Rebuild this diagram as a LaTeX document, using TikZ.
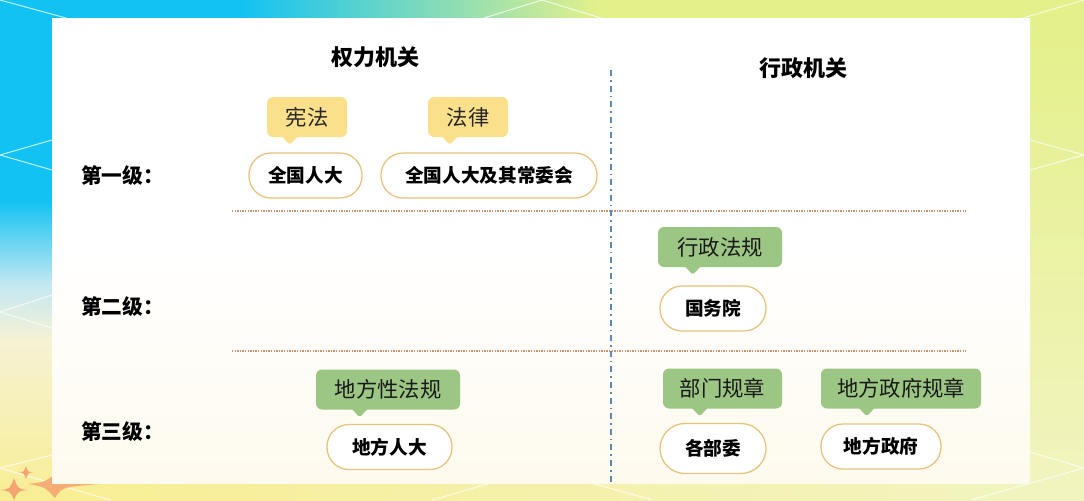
\documentclass[tikz,border=0pt]{standalone}
\usepackage{fontspec}
\newfontfamily\cjk{Noto Sans CJK SC}
\usetikzlibrary{shapes.geometric,shadings}
\newdimen\pxu \pxu=0.75pt
\definecolor{bgcyan}{HTML}{12C2F2}
\definecolor{bgtopright}{HTML}{E4F08A}
\definecolor{bglightblue}{HTML}{C4E8F2}
\definecolor{bgpale}{HTML}{F6F2D4}
\definecolor{bgyellow}{HTML}{F8EE94}
\definecolor{bglowright}{HTML}{F2F4C0}
\definecolor{panelcream}{HTML}{FEFAEE}
\definecolor{callyellow}{HTML}{FBE08C}
\definecolor{callgreen}{HTML}{9CC684}
\definecolor{pillgold}{HTML}{E6C47E}
\definecolor{vline}{HTML}{5B87B5}
\definecolor{hline}{HTML}{C99270}
\definecolor{starorange}{HTML}{F4986A}
\tikzset{
  pill/.style={draw=pillgold, line width=1.3\pxu, fill=white, rounded corners=22\pxu,
    minimum height=45\pxu, inner sep=0pt, font=\cjk\fontsize{14}{16}\selectfont\bfseries, text=black},
  callY/.style={fill=callyellow, rounded corners=6\pxu, minimum height=40\pxu, inner sep=0pt,
    font=\cjk\fontsize{16}{18}\selectfont, text=black!85},
  callG/.style={callY, fill=callgreen, text=black!90},
  levellabel/.style={anchor=west, inner sep=0pt, font=\cjk\fontsize{15.5}{18}\selectfont\bfseries},
  header/.style={inner sep=0pt, font=\cjk\fontsize{16.5}{19}\selectfont\bfseries},
  decoline/.style={white, line width=1\pxu, opacity=0.75},
  sepH/.style={hline, line width=1.3\pxu, dash pattern=on 1.3\pxu off 1.3\pxu},
  sepV/.style={vline, line width=2\pxu, dash pattern=on 6\pxu off 4\pxu on 1.6\pxu off 4\pxu},
}
\newcommand{\calltail}[3]{% node, offset from west, color
  \fill[#3] ([xshift=#2\pxu-8\pxu,yshift=1\pxu]#1.south west) -- ([xshift=#2\pxu+8\pxu,yshift=1\pxu]#1.south west)
    -- ([xshift=#2\pxu+1.5\pxu,yshift=-6\pxu]#1.south west) to[out=-160,in=-20] ([xshift=#2\pxu-1.5\pxu,yshift=-6\pxu]#1.south west) -- cycle;}
\begin{document}
\begin{tikzpicture}[x=0.75pt,y=-0.75pt]
\useasboundingbox (0,0) rectangle (1084,500);
% background strips
\fill[bgcyan] (0,0) rectangle (240,18);
\shade[left color=bgcyan, right color=bgtopright] (240,0) rectangle (600,18);
\fill[bgtopright] (600,0) rectangle (1084,18);
\fill[bgcyan] (0,0) rectangle (52,200);
\shade[top color=bgcyan, bottom color=bglightblue] (0,200) rectangle (52,285);
\shade[top color=bglightblue, bottom color=bgpale] (0,285) rectangle (52,340);
\shade[top color=bgpale, bottom color=bgyellow] (0,340) rectangle (52,500);
\shade[top color=bgtopright, bottom color=bglowright] (1030,18) rectangle (1084,500);
\shade[left color=bgyellow, right color=bglowright] (52,483) rectangle (1030,500);
% decorative lines
\draw[decoline] (0,0) -- (66,18);
\draw[decoline] (484,18) -- (542,0) -- (601,18);
\draw[decoline] (1023,18) -- (1084,0);
\draw[decoline] (52,140) -- (0,155) -- (52,170);
\draw[decoline] (52,295) -- (0,312) -- (52,328);
\draw[decoline] (52,455) -- (0,468) -- (110,500);
\draw[decoline] (1030,140) -- (1084,155) -- (1030,170);
\draw[decoline] (1030,452) -- (1084,468) -- (971,500);
\draw[decoline] (432,500) -- (491,483);
\draw[decoline] (591,483) -- (653,500);
% stars
\fill[starorange, opacity=0.85] (18,472) .. controls (24,472) .. (26,466) .. controls (28,472) .. (34,472) .. controls (28,473) .. (26,479) .. controls (24,473) .. cycle;
\fill[starorange, opacity=0.85] (0,490) .. controls (10,489) .. (14,478) .. controls (18,489) .. (28,490) .. controls (18,491) .. (14,500) .. controls (10,491) .. cycle;
\fill[starorange, opacity=0.75] (28,484) .. controls (45,482) .. (55,474) .. controls (62,482) .. (100,484) .. controls (62,487) .. (55,498) .. controls (45,487) .. cycle;
% panel
\shade[top color=white, bottom color=panelcream, middle color=white] (52,18) rectangle (1030,483);
% headers
\node[header] (h1) at (375,57) {权力机关};
\node[header] (h2) at (803,68) {行政机关};
% separators
\coordinate (vtop) at (611,70);
\coordinate (vbot) at (611,482);
\draw[sepV] (vtop) -- (vbot);
\coordinate (s1a) at (232,211); \coordinate (s1b) at (966,211);
\coordinate (s2a) at (232,351); \coordinate (s2b) at (966,351);
\draw[sepH] (s1a) -- (s1b);
\draw[sepH] (s2a) -- (s2b);
% level labels
\node[levellabel] (l1) at (81,176) {第一级：};
\node[levellabel] (l2) at (81,307) {第二级：};
\node[levellabel] (l3) at (81,432) {第三级：};
% level 1
\node[callY, minimum width=80\pxu] (c1) at (307,117) {宪法};
\calltail{c1}{23}{callyellow}
\node[callY, minimum width=80\pxu] (c2) at (468,117) {法律};
\calltail{c2}{22}{callyellow}
\node[pill, minimum width=113\pxu] (p1) at (305.5,175.5) {全国人大};
\node[pill, minimum width=216\pxu] (p2) at (489,175.5) {全国人大及其常委会};
% level 2
\node[callG, minimum width=124\pxu] (c3) at (720,247) {行政法规};
\calltail{c3}{35}{callgreen}
\node[pill, minimum width=106\pxu] (p3) at (713,308.5) {国务院};
% level 3
\node[callG, minimum width=144\pxu] (c4) at (388,389.5) {地方性法规};
\calltail{c4}{44}{callgreen}
\node[pill, minimum width=125\pxu] (p4) at (389.5,447) {地方人大};
\node[callG, minimum width=119\pxu] (c5) at (722.5,388.5) {部门规章};
\calltail{c5}{37}{callgreen}
\node[callG, minimum width=160\pxu] (c6) at (901,388.5) {地方政府规章};
\calltail{c6}{46}{callgreen}
\node[pill, minimum width=106\pxu, minimum height=50\pxu, rounded corners=25\pxu] (p5) at (713,448.5) {各部委};
\node[pill, minimum width=120\pxu] (p6) at (881,446.5) {地方政府};
\end{tikzpicture}
\end{document}
